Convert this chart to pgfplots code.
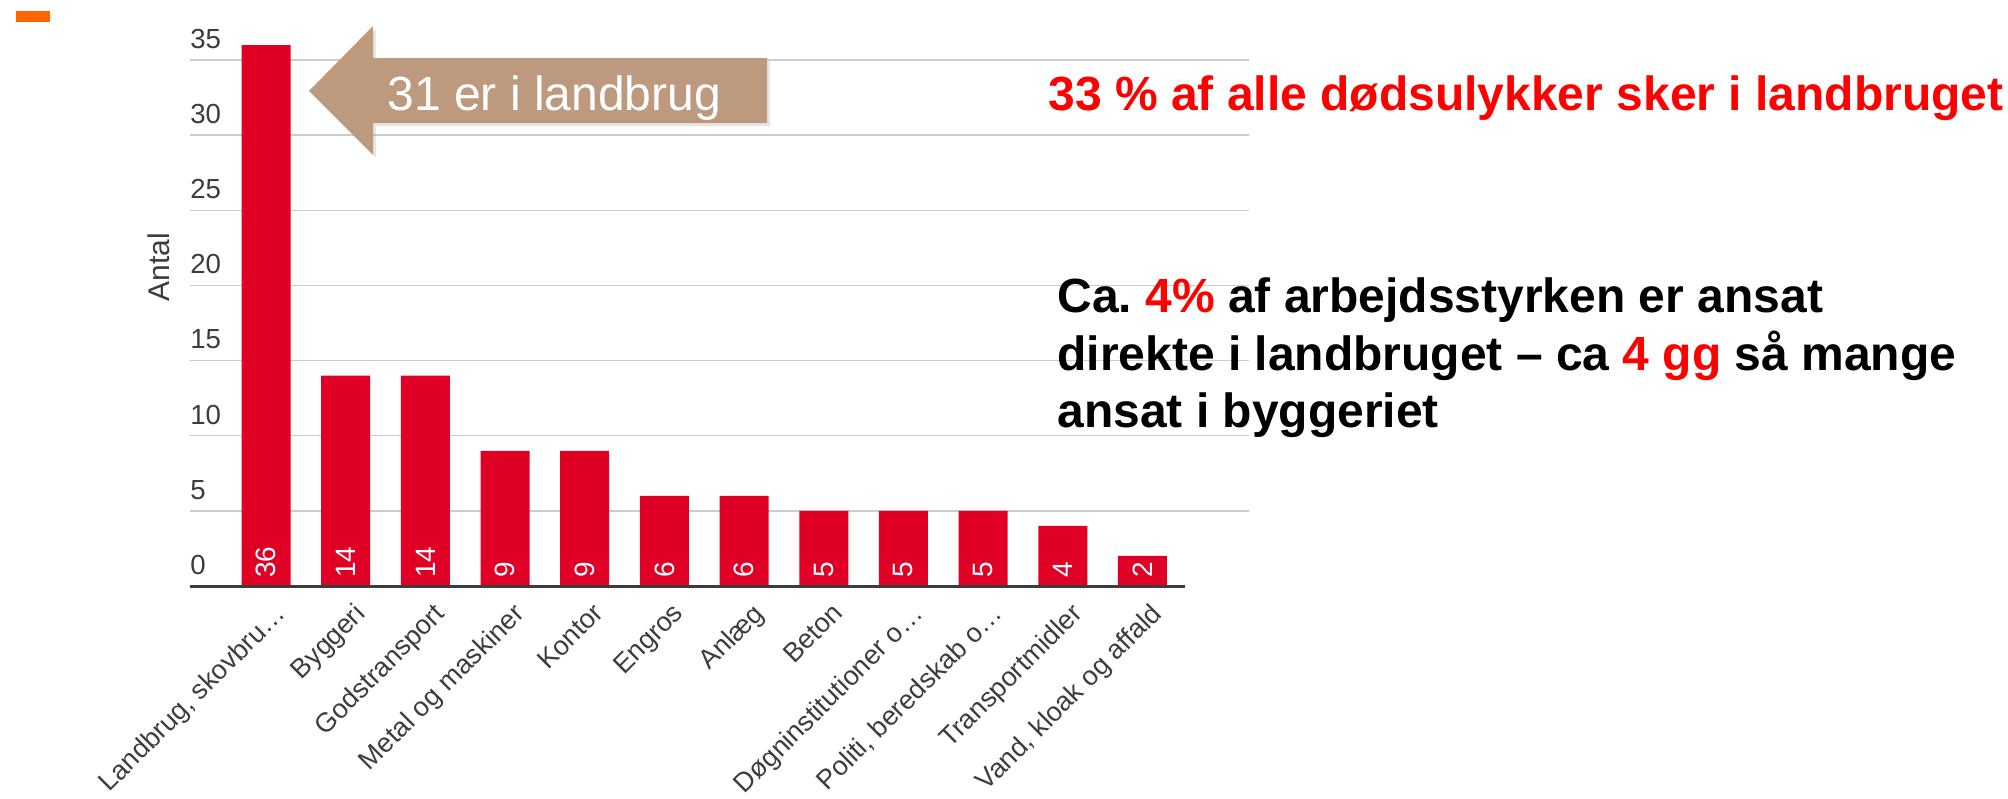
\documentclass[border=0pt]{standalone}
\usepackage{fontspec}
\setmainfont{Liberation Sans}
\usepackage{graphicx}
\usepackage{pgfplots}
\pgfplotsset{compat=1.18}
\usepackage{pgfplotstable}
\usetikzlibrary{shadows}
\definecolor{barred}{HTML}{E00025}
\definecolor{ticktxt}{HTML}{3C3C3C}
\definecolor{gridc}{HTML}{CCCCCC}
\definecolor{arrowtan}{HTML}{BD9A7E}
\definecolor{orangemark}{HTML}{FF6600}
\frenchspacing

\pgfplotstableread{
x y
0 36
1 14
2 14
3 9
4 9
5 6
6 6
7 5
8 5
9 5
10 4
11 2
}\data

\begin{document}
\begin{tikzpicture}[x=0.5pt,y=-0.5pt]
\path[use as bounding box] (0,0) rectangle (2008,798);
\fill[orangemark] (16,11) rectangle (50,22);
\begin{axis}[
  at={(95pt,-293pt)}, anchor=south west,
  scale only axis, width=529.5pt, height=278pt,
  xmin=-0.954, xmax=12.337, ymin=0, ymax=37,
  axis line style={draw=none},
  major tick length=0pt,
  ytick={5,10,...,35},
  extra y ticks={0},
  extra y tick style={grid=none},
  ymajorgrids, grid style={gridc, line width=0.75pt},
  xtick={0,1,2,3,4,5,6,7,8,9,10,11},
  xticklabels={{Landbrug, skovbru…},Byggeri,Godstransport,Metal og maskiner,Kontor,Engros,Anlæg,Beton,{Døgninstitutioner o…},{Politi, beredskab o…},Transportmidler,{Vand, kloak og affald}},
  /pgf/number format/assume math mode=true,
  yticklabel style={font=\fontsize{13.8pt}{16pt}\selectfont, text=ticktxt, anchor=south west, inner sep=0pt, yshift=5.5pt},
  xticklabel style={font=\fontsize{13.5pt}{16pt}\selectfont, text=ticktxt, inner sep=0pt, xshift=3.5pt, yshift=-7.5pt, rotate=45, anchor=north east},
  ylabel={Antal},
  ylabel style={at={(axis description cs:-0.0293,0.574)}, anchor=center, font=\fontsize{15pt}{18pt}\selectfont, text=ticktxt, inner sep=0pt},
  clip=false,
]
\addplot[ybar, bar width=24.5pt, fill=barred, draw=none] table[x=x,y=y]{\data};
\addplot[draw=none, mark=none, point meta=explicit,
  nodes near coords={\pgfmathprintnumber{\pgfplotspointmeta}},
  nodes near coords style={yshift=4pt, rotate=90, anchor=west, text=white, inner sep=0pt, font=\fontsize{14pt}{16pt}\selectfont}]
  table[x=x, y expr=0, meta=y]{\data};
\draw[ticktxt, line width=1.5pt] (axis cs:-0.954,0) -- (axis cs:11.53,0);
\end{axis}
% arrow callout
\fill[arrowtan, drop shadow={shadow xshift=1.5pt, shadow yshift=-1.5pt, opacity=0.2}]
  (309,91) -- (373,26) -- (373,58) -- (767,58) -- (767,123) -- (373,123) -- (373,155) -- cycle;
\node[anchor=base west, inner sep=0pt, text=white, font=\fontsize{24pt}{28pt}\selectfont] at (387,110) {31 er i landbrug};
% annotations
\node[anchor=base west, inner sep=0pt, text=red, font=\fontsize{24pt}{28pt}\selectfont\bfseries] at (1048,110) {33 \% af alle dødsulykker sker i landbruget};
\node[anchor=base west, inner sep=0pt, font=\fontsize{24pt}{28pt}\selectfont\bfseries] at (1057,312) {Ca. \textcolor{red}{4\%} af arbejdsstyrken er ansat};
\node[anchor=base west, inner sep=0pt, font=\fontsize{24pt}{28pt}\selectfont\bfseries] at (1057,370) {direkte i landbruget – ca \textcolor{red}{4 gg} så mange};
\node[anchor=base west, inner sep=0pt, font=\fontsize{24pt}{28pt}\selectfont\bfseries] at (1057,427) {ansat i byggeriet};
\end{tikzpicture}
\end{document}
